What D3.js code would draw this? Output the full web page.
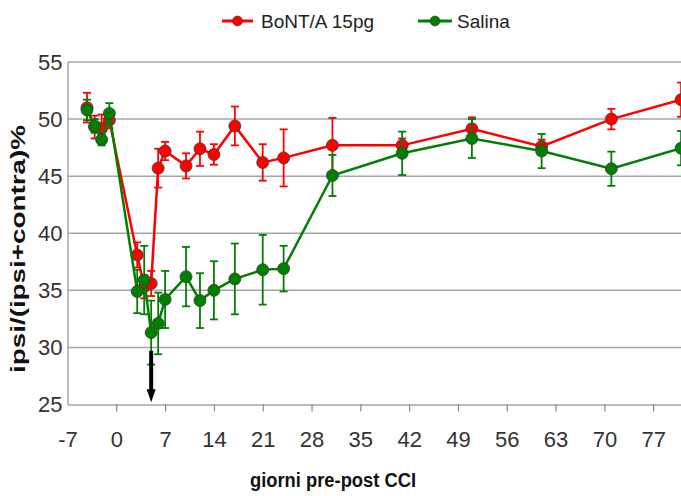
<!DOCTYPE html>
<html><head><meta charset="utf-8">
<script src="https://cdn.jsdelivr.net/npm/d3@7"></script>
<style>
html,body{margin:0;padding:0;background:#fff;}
svg{display:block;font-family:"Liberation Sans",Arial,sans-serif;}
</style></head>
<body><svg id="c" width="681" height="496"></svg>
<script>
const days = [-4.2, -3.1, -2.1, -1, 3, 4, 5, 6, 7, 10, 12, 14, 17, 21, 24, 31, 41, 51, 61, 71, 81];
const bontValues = [51.0, 49.3, 49.2, 49.9, 38.1, 35.3, 35.6, 45.7, 47.2, 45.9, 47.4, 46.9, 49.4, 46.2, 46.6, 47.7, 47.7, 49.15, 47.6, 50.0, 51.7];
const bontErr    = [1.3, 1.0, 1.2, 0.7, 1.1, 1.0, 1.1, 1.7, 0.8, 1.1, 1.5, 0.9, 1.7, 1.6, 2.5, 2.4, 0.6, 1.0, 0.6, 0.9, 1.5];
const salinaValues = [50.8, 49.4, 48.2, 50.5, 34.9, 35.9, 31.3, 32.1, 34.2, 36.2, 34.1, 35.0, 36.0, 36.8, 36.9, 45.06, 47.0, 48.3, 47.2, 45.65, 47.45];
const salinaErr    = [0.9, 0.6, 0.5, 0.9, 1.9, 3.0, 2.8, 2.7, 2.5, 2.6, 2.4, 2.55, 3.1, 3.05, 2.0, 1.8, 1.9, 1.7, 1.5, 1.5, 1.5];
const xTicks = [-7, 0, 7, 14, 21, 28, 35, 42, 49, 56, 63, 70, 77];
const yTicks = [25, 30, 35, 40, 45, 50, 55];
const seriesNames = ["BoNT/A 15pg", "Salina"];
const arrowDay = 5, arrowFrom = 29.7, arrowTo = 25.2;

const svg = d3.select("#c");
const x = d3.scaleLinear().domain([-7, 84]).range([67.5, 702]);
const y = d3.scaleLinear().domain([25, 55]).range([404.5, 62]);
const FONT = "'Liberation Sans',Arial,sans-serif";

// gridlines
svg.append("g").selectAll("line").data(yTicks.filter(d => d > 25)).join("line")
  .attr("x1", x(-7)).attr("x2", 702).attr("y1", d => y(d)).attr("y2", d => y(d))
  .attr("stroke", "#a6a6a6").attr("stroke-width", 1.5);

// y axis
const yAxis = svg.append("g").attr("transform", `translate(${x(-7)},0)`)
  .call(d3.axisLeft(y).tickValues(yTicks).tickFormat(d => String(d)).tickSize(0).tickPadding(5));
yAxis.select(".domain").attr("stroke", "#a6a6a6").attr("stroke-width", 1.5);
yAxis.selectAll("text").attr("font-size", 22).attr("fill", "#333").attr("font-family", FONT)
  .attr("transform", "scale(1,1.06)").attr("dy", "0.33em");
yAxis.selectAll(".tick").each(function(d){
  d3.select(this).select("text").attr("transform", null);
});

// x axis
const xAxis = svg.append("g").attr("transform", `translate(0,${y(25)})`)
  .call(d3.axisBottom(x).tickValues(xTicks).tickFormat(d => String(d)).tickSize(7).tickPadding(28).tickSizeOuter(0));
xAxis.select(".domain").attr("stroke", "#a6a6a6").attr("stroke-width", 1.5);
xAxis.selectAll(".tick line").attr("stroke", "#888").attr("stroke-width", 1.2);
xAxis.selectAll(".tick").filter(d => d === -7).select("line").remove();
xAxis.selectAll("text").attr("font-size", 22).attr("fill", "#333")
  .attr("font-family", FONT).attr("dy", "0.35em");

// axis titles
svg.append("text").attr("x", 333).attr("y", 487).attr("text-anchor", "middle")
  .attr("font-size", 20).attr("font-weight", "bold").attr("fill", "#111")
  .attr("textLength", 166).attr("lengthAdjust", "spacingAndGlyphs")
  .text("giorni pre-post CCI");
svg.append("text").attr("transform", "translate(25,249) rotate(-90)").attr("text-anchor", "middle")
  .attr("font-size", 21).attr("font-weight", "bold").attr("fill", "#111")
  .attr("textLength", 248).attr("lengthAdjust", "spacingAndGlyphs")
  .text("ipsi/(ipsi+contra)%");

// series
function drawSeries(vals, errs, color) {
  const data = days.map((d, i) => ({d, v: vals[i], e: errs[i]}));
  const g = svg.append("g");
  g.append("path").datum(data)
    .attr("d", d3.line().x(p => x(p.d)).y(p => y(p.v)))
    .attr("fill", "none").attr("stroke", color).attr("stroke-width", 2.5);
  const eb = g.append("g").attr("stroke", color).attr("stroke-width", 1.8);
  eb.selectAll("line.v").data(data).join("line").attr("class", "v")
    .attr("x1", p => x(p.d)).attr("x2", p => x(p.d))
    .attr("y1", p => y(p.v - p.e)).attr("y2", p => y(p.v + p.e));
  eb.selectAll("line.t").data(data).join("line").attr("class", "t")
    .attr("x1", p => x(p.d) - 4).attr("x2", p => x(p.d) + 4)
    .attr("y1", p => y(p.v + p.e)).attr("y2", p => y(p.v + p.e));
  eb.selectAll("line.b").data(data).join("line").attr("class", "b")
    .attr("x1", p => x(p.d) - 4).attr("x2", p => x(p.d) + 4)
    .attr("y1", p => y(p.v - p.e)).attr("y2", p => y(p.v - p.e));
  g.selectAll("circle").data(data).join("circle")
    .attr("cx", p => x(p.d)).attr("cy", p => y(p.v)).attr("r", 6)
    .attr("fill", color).attr("stroke", "#3a3a3a").attr("stroke-width", 0.8);
}
drawSeries(bontValues, bontErr, "#ff0000");
drawSeries(salinaValues, salinaErr, "#007f00");

// arrow annotation
const ax = x(arrowDay), ay1 = y(arrowFrom), ay2 = y(arrowTo);
svg.append("line").attr("x1", ax).attr("x2", ax).attr("y1", ay1).attr("y2", ay2 - 12)
  .attr("stroke", "#000").attr("stroke-width", 4);
svg.append("path").attr("d", `M${ax-4.5},${ay2-13} L${ax+4.5},${ay2-13} L${ax},${ay2} Z`).attr("fill", "#000");

// legend
const legend = [
  {name: seriesNames[0], color: "#ff0000", x1: 222, x2: 253, tx: 261},
  {name: seriesNames[1], color: "#007f00", x1: 418, x2: 452, tx: 457}
];
const lg = svg.append("g");
legend.forEach(l => {
  lg.append("line").attr("x1", l.x1).attr("x2", l.x2).attr("y1", 21).attr("y2", 21)
    .attr("stroke", l.color).attr("stroke-width", 3);
  lg.append("circle").attr("cx", (l.x1 + l.x2) / 2).attr("cy", 21).attr("r", 5)
    .attr("fill", l.color).attr("stroke", "#3a3a3a").attr("stroke-width", 0.6);
  lg.append("text").attr("x", l.tx).attr("y", 28).attr("font-size", 19).attr("fill", "#222")
    .text(l.name);
});
</script></body></html>
